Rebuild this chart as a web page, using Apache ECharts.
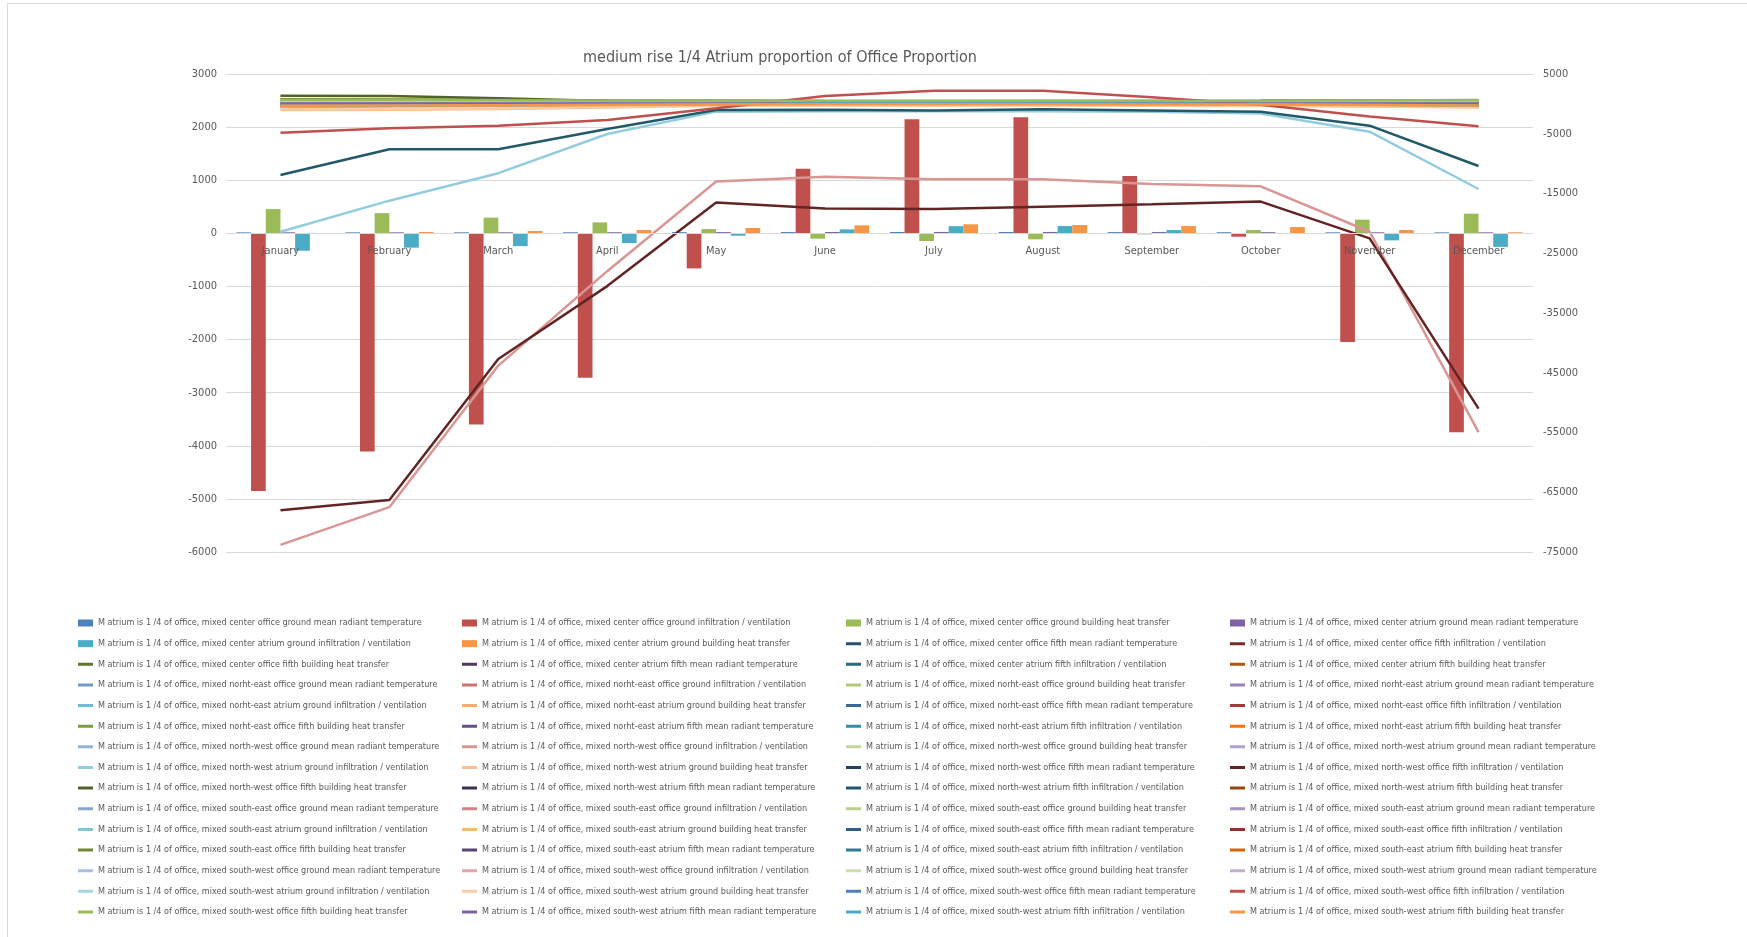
<!DOCTYPE html>
<html>
<head>
<meta charset="utf-8">
<script src="https://cdn.jsdelivr.net/npm/echarts@6/dist/echarts.min.js"></script>
<style>html,body{margin:0;padding:0;background:#fff;}#chart{width:1747px;height:937px;}</style>
</head>
<body>
<div id="chart"></div>
<script>
// ---------- DATA ----------
const titleText = 'medium rise 1/4 Atrium proportion of Office Proportion';
const months = ['January','February','March','April','May','June','July','August','September','October','November','December'];
const leftTicks = [-6000,-5000,-4000,-3000,-2000,-1000,0,1000,2000,3000];
const rightTicks = [-75000,-65000,-55000,-45000,-35000,-25000,-15000,-5000,5000];

// name parts
const namePrefix = 'M atrium is 1 /4 of office, mixed ';
const orientations = ['center','norht-east','north-west','south-east','south-west'];
const spaces = ['office','atrium'];
const floors = ['ground','fifth'];
const metrics = ['mean radiant temperature','infiltration / ventilation','building heat transfer'];

// centre ground (bars, left axis)
const cOffGndMrt = [18,18,19,20,22,24,25,25,23,21,19,18];
const cOffGndInf = [-4850,-4110,-3600,-2720,-660,1217,2150,2184,1079,-63,-2048,-3747];
const cOffGndBht = [457,380,295,206,80,-100,-145,-113,-20,62,257,370];
const cAtrGndMrt = [19,19,20,21,23,25,26,26,24,22,20,19];
const cAtrGndInf = [-327,-270,-240,-183,-45,75,135,137,62,5,-132,-255];
const cAtrGndBht = [5,25,45,62,100,150,170,156,137,118,62,20];
// centre fifth (lines, right axis)
const cOffFifMrt = [21,21,22,23,25,27,28,28,26,24,22,21];
const cOffFifInf = [-260,-210,-160,-100,-30,30,60,55,15,-25,-120,-230];
const cOffFifBht = [620,600,560,500,470,440,430,435,450,470,520,580];
const cAtrFifMrt = [20,20,21,23,25,27,28,28,26,24,21,20];
const cAtrFifInf = [-340,-290,-230,-150,-40,40,80,75,25,-15,-140,-300];
const cAtrFifBht = [-150,-140,-120,-90,-60,-40,-30,-35,-50,-70,-110,-140];
// norht-east
const neOffGndMrt = [19,19,21,22,24,26,27,27,25,23,21,19];
const neOffGndInf = [-410,-350,-300,-220,-60,100,170,175,80,-15,-170,-330];
const neOffGndBht = [560,540,500,450,420,400,390,395,410,430,480,530];
const neAtrGndMrt = [18,18,20,22,24,26,27,27,25,22,20,18];
const neAtrGndInf = [-60,-50,-45,-35,-10,10,20,20,10,0,-25,-50];
const neAtrGndBht = [-190,-170,-150,-110,-70,-50,-40,-45,-60,-80,-130,-170];
const neOffFifMrt = [21,21,22,24,26,27,28,28,26,24,22,21];
const neOffFifInf = [-290,-240,-190,-120,-30,35,65,60,20,-20,-130,-260];
const neOffFifBht = [700,680,620,540,500,470,460,465,480,500,560,640];
const neAtrFifMrt = [20,20,21,23,25,27,28,28,26,24,21,20];
const neAtrFifInf = [-380,-320,-260,-170,-45,45,85,80,25,-15,-150,-330];
const neAtrFifBht = [-120,-110,-95,-70,-45,-30,-25,-28,-40,-55,-90,-115];
// north-west
const nwOffGndMrt = [19,19,20,22,24,26,27,27,25,23,20,19];
const nwOffGndInf = [-73800,-67500,-43800,-28000,-13000,-12200,-12600,-12600,-13400,-13800,-21400,-54950];
const nwOffGndBht = [650,630,590,520,480,450,440,445,460,480,530,600];
const nwAtrGndMrt = [18,18,20,21,24,26,27,27,25,22,20,18];
const nwAtrGndInf = [-21400,-16200,-11600,-5050,-1300,-1220,-1250,-1220,-1300,-1600,-4650,-14250];
const nwAtrGndBht = [-1040,-980,-850,-600,-330,-280,-260,-270,-300,-350,-450,-600];
const nwOffFifMrt = [21,21,22,24,25,27,28,28,26,24,22,21];
const nwOffFifInf = [-68000,-66300,-42700,-30500,-16500,-17500,-17600,-17200,-16800,-16350,-22500,-51000];
const nwOffFifBht = [1360,1320,960,470,280,220,210,220,240,270,300,330];
const nwAtrFifMrt = [20,20,21,23,25,27,28,28,26,23,21,20];
const nwAtrFifInf = [-11900,-7600,-7600,-4200,-1020,-1000,-1100,-900,-1100,-1300,-3650,-10400];
const nwAtrFifBht = [-230,-210,-180,-130,-80,-60,-50,-55,-70,-90,-150,-200];
// south-east
const seOffGndMrt = [19,19,21,22,24,26,27,27,25,23,21,19];
const seOffGndInf = [-440,-380,-320,-230,-65,105,180,185,85,-15,-180,-350];
const seOffGndBht = [590,570,530,470,440,410,400,405,420,445,490,560];
const seAtrGndMrt = [18,18,20,22,24,26,27,27,25,22,20,18];
const seAtrGndInf = [-70,-60,-50,-40,-12,12,22,22,12,0,-28,-55];
const seAtrGndBht = [-420,-400,-350,-260,-160,-120,-110,-115,-140,-180,-260,-360];
const seOffFifMrt = [21,21,22,24,26,27,28,28,26,24,22,21];
const seOffFifInf = [-300,-250,-200,-125,-35,35,70,65,20,-20,-135,-270];
const seOffFifBht = [760,730,660,560,510,480,470,475,490,510,560,600];
const seAtrFifMrt = [20,20,21,23,25,27,28,28,26,24,21,20];
const seAtrFifInf = [-390,-330,-270,-175,-45,45,90,85,25,-15,-155,-340];
const seAtrFifBht = [-80,-75,-65,-50,-30,-20,-15,-18,-25,-35,-60,-75];
// south-west
const swOffGndMrt = [19,19,21,22,24,26,27,27,25,23,21,19];
const swOffGndInf = [-430,-370,-310,-225,-60,100,175,180,80,-15,-175,-340];
const swOffGndBht = [540,520,480,430,400,380,375,380,395,420,470,520];
const swAtrGndMrt = [18,18,20,22,24,26,27,27,25,22,20,18];
const swAtrGndInf = [-65,-55,-48,-38,-11,11,21,21,11,0,-26,-52];
const swAtrGndBht = [-860,-810,-720,-530,-310,-260,-240,-250,-280,-320,-410,-540];
const swOffFifMrt = [21,21,22,24,26,27,28,28,26,24,22,21];
const swOffFifInf = [-4840,-4100,-3650,-2700,-740,1320,2200,2200,1100,-150,-2130,-3740];
const swOffFifBht = [650,640,600,540,510,490,480,485,500,520,560,600];
const swAtrFifMrt = [20,20,21,23,25,27,28,28,26,24,21,20];
const swAtrFifInf = [-370,-310,-250,-165,-42,42,82,78,24,-14,-145,-320];
const swAtrFifBht = [-300,-280,-240,-180,-110,-80,-70,-75,-95,-120,-190,-260];

const seriesValues = [
  cOffGndMrt,cOffGndInf,cOffGndBht,cAtrGndMrt,cAtrGndInf,cAtrGndBht,
  cOffFifMrt,cOffFifInf,cOffFifBht,cAtrFifMrt,cAtrFifInf,cAtrFifBht,
  neOffGndMrt,neOffGndInf,neOffGndBht,neAtrGndMrt,neAtrGndInf,neAtrGndBht,
  neOffFifMrt,neOffFifInf,neOffFifBht,neAtrFifMrt,neAtrFifInf,neAtrFifBht,
  nwOffGndMrt,nwOffGndInf,nwOffGndBht,nwAtrGndMrt,nwAtrGndInf,nwAtrGndBht,
  nwOffFifMrt,nwOffFifInf,nwOffFifBht,nwAtrFifMrt,nwAtrFifInf,nwAtrFifBht,
  seOffGndMrt,seOffGndInf,seOffGndBht,seAtrGndMrt,seAtrGndInf,seAtrGndBht,
  seOffFifMrt,seOffFifInf,seOffFifBht,seAtrFifMrt,seAtrFifInf,seAtrFifBht,
  swOffGndMrt,swOffGndInf,swOffGndBht,swAtrGndMrt,swAtrGndInf,swAtrGndBht,
  swOffFifMrt,swOffFifInf,swOffFifBht,swAtrFifMrt,swAtrFifInf,swAtrFifBht
];
const barCount = 6;

// ---------- STYLE ----------
const FONT = "'Liberation Sans Narrow','DejaVu Sans Condensed','Open Sans',sans-serif";
const TXT = '#595959';
const GRIDC = '#D9D9D9';
const accents = ['#4F81BD','#C0504D','#9BBB59','#8064A2','#4BACC6','#F79646'];
const variants = [[1,0],[0.6,0],[0.8,0.2],[0.8,0],[0.6,0.4],[0.5,0],[0.7,0.3],[0.7,0],[0.5,0.5],[1,0]];
const LINE_ICON = 'path://M0,0L15,0M0,2L15,2L15,5L0,5ZM0,7L15,7';

function hexToHsl(hex){
  const r=parseInt(hex.substr(1,2),16)/255,g=parseInt(hex.substr(3,2),16)/255,b=parseInt(hex.substr(5,2),16)/255;
  const mx=Math.max(r,g,b),mn=Math.min(r,g,b);let h=0,s=0;const l=(mx+mn)/2;
  if(mx!==mn){const d=mx-mn;s=l>0.5?d/(2-mx-mn):d/(mx+mn);
    if(mx===r)h=(g-b)/d+(g<b?6:0);else if(mx===g)h=(b-r)/d+2;else h=(r-g)/d+4;h/=6;}
  return [h,s,l];
}
function hslToHex(h,s,l){
  function f(p,q,t){if(t<0)t+=1;if(t>1)t-=1;if(t<1/6)return p+(q-p)*6*t;if(t<1/2)return q;if(t<2/3)return p+(q-p)*(2/3-t)*6;return p;}
  let r,g,b;if(s===0){r=g=b=l;}else{const q=l<0.5?l*(1+s):l+s-l*s,p=2*l-q;r=f(p,q,h+1/3);g=f(p,q,h);b=f(p,q,h-1/3);}
  const x=v=>Math.round(v*255).toString(16).padStart(2,'0');return '#'+x(r)+x(g)+x(b);
}
function colorFor(i){
  const base=accents[i%6];const v=variants[Math.floor(i/6)];
  const hsl=hexToHsl(base);return hslToHex(hsl[0],hsl[1],Math.min(1,hsl[2]*v[0]+v[1]));
}

// names
const seriesNames=[];
orientations.forEach(o=>{floors.forEach(fl=>{spaces.forEach(sp=>{metrics.forEach(m=>{
  seriesNames.push(namePrefix+o+' '+sp+' '+fl+' '+m);});});});});

const series = seriesValues.map((vals,i)=>{
  const c=colorFor(i);
  if(i<barCount){
    return {name:seriesNames[i],type:'bar',yAxisIndex:0,data:vals,barWidth:14.7,barGap:'0%',
      itemStyle:{color:c},emphasis:{disabled:true}};
  }
  return {name:seriesNames[i],type:'line',yAxisIndex:1,data:vals,symbol:'none',showSymbol:false,
    lineStyle:{color:c,width:2.5},itemStyle:{color:c},emphasis:{disabled:true}};
});

const legendCols=[78,462,846,1230];
const legends = legendCols.map((x,c)=>{
  const data=[];for(let r=0;r<15;r++){const i=r*4+c;data.push({name:seriesNames[i],icon:i<barCount?'rect':LINE_ICON});}
  return {orient:'vertical',left:x,top:617,padding:0,itemGap:8.64,itemWidth:15,itemHeight:7,
    data:data,selectedMode:false,itemStyle:{borderWidth:0},
    textStyle:{fontFamily:FONT,fontSize:9,color:TXT,lineHeight:12}};
});

const numFmt = v => String(v);
const GRID_TOP = 74, GRID_H = 478;
// place the category axis on the left axis' zero line
const zeroOffset = -GRID_H * (0 - (-6000)) / (3000 - (-6000));

const chart = echarts.init(document.getElementById('chart'),null,{renderer:'canvas'});
chart.setOption({
  animation:false,
  backgroundColor:'#ffffff',
  title:{text:titleText,left:780,textAlign:'center',top:50,padding:0,
    textStyle:{fontFamily:FONT,fontSize:16,fontWeight:'normal',color:TXT}},
  legend:legends,
  grid:{left:226,top:GRID_TOP,width:1307,height:GRID_H,containLabel:false},
  xAxis:{type:'category',data:months,boundaryGap:true,position:'bottom',offset:zeroOffset,z:5,
    axisLine:{onZero:false,lineStyle:{color:GRIDC,width:1}},axisTick:{show:false},
    axisLabel:{margin:12,fontFamily:FONT,fontSize:11,color:TXT}},
  yAxis:[
    {type:'value',min:-6000,max:3000,interval:1000,position:'left',
      axisLine:{show:false,onZero:false},axisTick:{show:false},
      axisLabel:{margin:9,fontFamily:FONT,fontSize:11,color:TXT,customValues:leftTicks,formatter:numFmt},
      splitLine:{lineStyle:{color:GRIDC,width:1}}},
    {type:'value',min:-75000,max:5000,position:'right',
      axisLine:{show:false,onZero:false},axisTick:{show:false},
      axisLabel:{margin:10,fontFamily:FONT,fontSize:11,color:TXT,customValues:rightTicks,formatter:numFmt},
      splitLine:{show:false}}
  ],
  graphic:[{type:'rect',shape:{x:7.5,y:3.5,width:3000,height:3000},style:{fill:'none',stroke:'#D9D9D9',lineWidth:1},silent:true}],
  series:series
});
</script>
</body>
</html>
